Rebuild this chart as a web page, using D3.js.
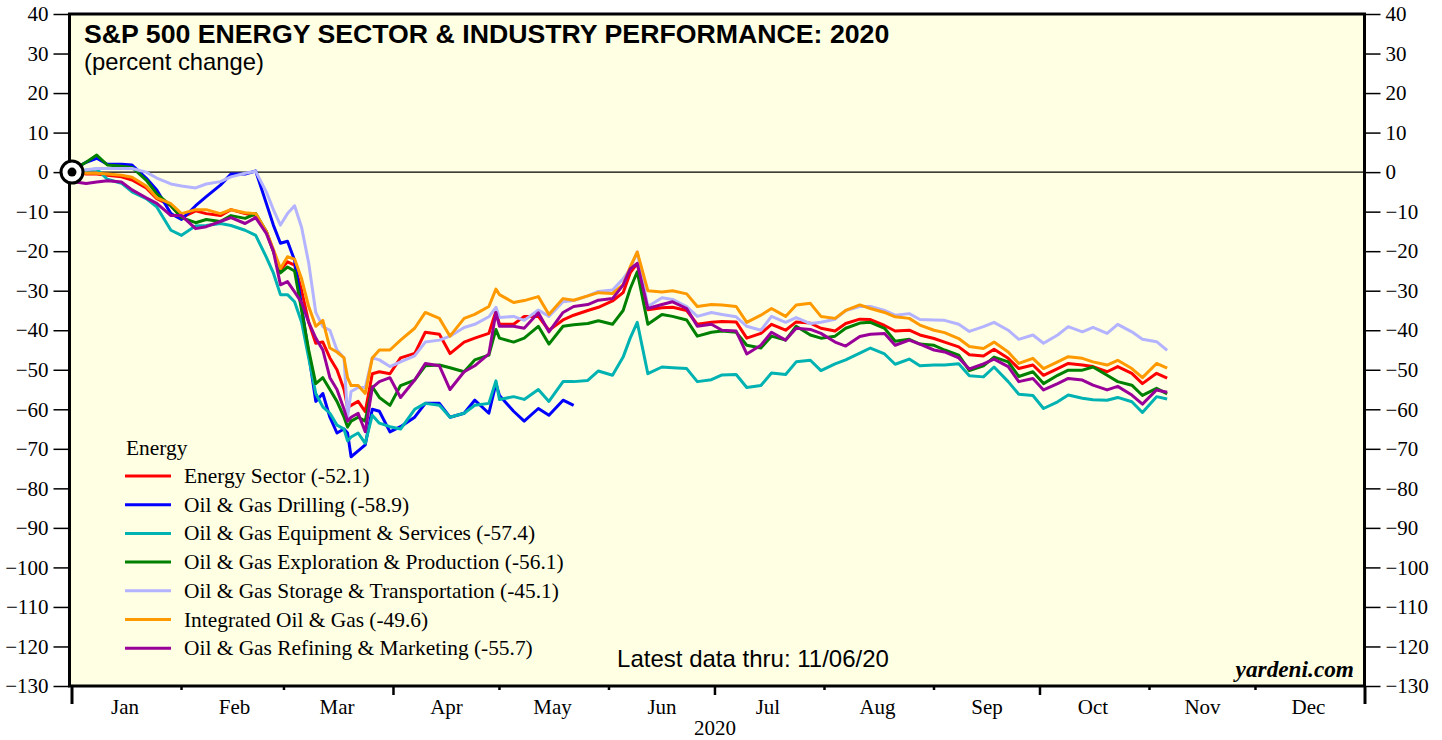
<!DOCTYPE html>
<html lang="en">
<head>
<meta charset="utf-8" />
<title>S&amp;P 500 Energy Sector &amp; Industry Performance: 2020</title>
<script src="https://d3js.org/d3.v7.min.js"></script>
<style>
  body { margin: 0; background: #fff; }
  .axis text { font-family: "Liberation Serif", "Times New Roman", serif; font-size: 21px; fill: #000; }
  .axis path { display: none; }
  .axis line { stroke: #000; stroke-width: 1.5; }
  .legend text { font-family: "Liberation Serif", "Times New Roman", serif; font-size: 21.4px; }
</style>
</head>
<body>
<svg id="chart" width="1442" height="740"></svg>
<script>
// dates of the samples (base = 0 on 12/31/19)
const dates = [
  "2020-01-01","2020-01-02","2020-01-05","2020-01-08","2020-01-11","2020-01-15","2020-01-18","2020-01-22","2020-01-25","2020-01-29",
  "2020-02-01","2020-02-05","2020-02-08","2020-02-12","2020-02-15","2020-02-19","2020-02-22","2020-02-25","2020-02-27","2020-02-29",
  "2020-03-02","2020-03-04","2020-03-06","2020-03-08","2020-03-10","2020-03-12","2020-03-14","2020-03-16","2020-03-18","2020-03-19",
  "2020-03-20","2020-03-22","2020-03-24","2020-03-26","2020-03-28","2020-03-31","2020-04-03","2020-04-07","2020-04-10","2020-04-14",
  "2020-04-17","2020-04-21","2020-04-24","2020-04-28","2020-04-30","2020-05-01","2020-05-05","2020-05-08","2020-05-12","2020-05-15",
  "2020-05-19","2020-05-22","2020-05-26","2020-05-29","2020-06-02","2020-06-05","2020-06-07","2020-06-09","2020-06-12","2020-06-16",
  "2020-06-19","2020-06-23","2020-06-26","2020-06-30","2020-07-03","2020-07-07","2020-07-10","2020-07-14","2020-07-17","2020-07-21",
  "2020-07-24","2020-07-28","2020-07-31","2020-08-04","2020-08-07","2020-08-11","2020-08-14","2020-08-18","2020-08-21","2020-08-25",
  "2020-08-28","2020-09-01","2020-09-04","2020-09-08","2020-09-11","2020-09-15","2020-09-18","2020-09-22","2020-09-25","2020-09-29",
  "2020-10-02","2020-10-06","2020-10-09","2020-10-13","2020-10-16","2020-10-20","2020-10-23","2020-10-27","2020-10-30","2020-11-03",
  "2020-11-06"
];

const energySector = [
  0, 0, -0.5, -0.5, -0.8, -1.2, -2, -4, -6.7, -8.5,
  -11.5, -9.8, -10.5, -11, -9.5, -10.5, -11, -15, -20, -24.8,
  -22.7, -23.5, -30, -38, -43.3, -43, -47, -50, -55, -59.5,
  -59, -58, -60.6, -51, -50.5, -51, -47, -45.9, -40.5, -41,
  -45.9, -43, -42, -40.8, -35.2, -38.5, -38.5, -36.5, -36.5, -40,
  -37.4, -36.2, -35, -34.2, -32.6, -30.5, -25.5, -23.1, -34.8, -34.3,
  -34.2, -35, -38.5, -38, -37.8, -37.9, -42, -40.8, -38.5, -40,
  -37.9, -38.2, -39.5, -40.2, -38.3, -37.2, -37.3, -38.8, -40.2, -40,
  -41.2, -42.1, -43, -44.2, -46.2, -46.5, -44.8, -47.1, -49.7, -48.8,
  -51.4, -49.7, -48.4, -48.8, -49.2, -50.5, -49.2, -50.9, -53.5, -50.9,
  -52.1
];

const drilling = [
  0, 1, 2.5, 3.5, 2, 2, 1.8, -1.5, -4.5, -10.5,
  -12, -8.5, -6.2, -3.3, -0.5, -0.5, 0.3, -7.9, -13.4, -18,
  -17.5, -22.3, -34, -46, -58, -56, -62, -66, -65, -66,
  -72, -70.5, -69, -60, -60.5, -65.7, -64.4, -62, -58.5, -58.5,
  -62, -61, -57.7, -61, -53.5, -56.5, -60.5, -63, -59.8, -61.5,
  -57.7, -59, null, null, null, null, null, null, null, null,
  null, null, null, null, null, null, null, null, null, null,
  null, null, null, null, null, null, null, null, null, null,
  null, null, null, null, null, null, null, null, null, null,
  null, null, null, null, null, null, null, null, null, null,
  null
];

const equipment = [
  0, -0.3, 0.5, 0.8, -1.8, -2.8, -5, -6.7, -8.8, -14.7,
  -16, -13.6, -13.5, -13, -13.5, -14.7, -16, -21.5, -25.5, -31,
  -31, -32.8, -38, -47, -56, -59.4, -61, -64, -65, -68,
  -67, -66, -68.6, -61.5, -63.5, -64.4, -65, -60, -58.5, -59,
  -62, -61, -59, -58.5, -52.8, -57.5, -56.8, -57.5, -55, -58,
  -53, -53, -52.7, -50.3, -51.4, -46.8, -42, -38, -51, -49.3,
  -49.5, -49.7, -53, -52.5, -51.3, -51.2, -54.5, -54, -50.8, -51.2,
  -48, -47.6, -50.2, -48.5, -47.5, -45.8, -44.5, -46, -48.6, -47.3,
  -49, -48.8, -48.8, -48.5, -51.5, -51.8, -49.3, -53, -56.2, -56.5,
  -59.8, -58.1, -56.4, -57.2, -57.6, -57.7, -57, -58.1, -60.8, -56.8,
  -57.4
];

const exploration = [
  0, 1, 2.5, 4.3, 1.8, 1.5, 1.2, -2, -5.5, -8.5,
  -11.5, -12.8, -12, -12.5, -11, -11.7, -10.5, -15, -20, -25.5,
  -24, -25, -35, -45, -53.5, -52, -55, -58, -62, -64.5,
  -63, -62, -63, -54.3, -57, -59, -54, -52.6, -49, -48.8,
  -49.5, -50.5, -47.5, -46.3, -39.8, -42, -43, -42, -39, -43.5,
  -39, -38.6, -38.3, -37.6, -38.5, -35, -29.5, -25.2, -38.5, -36,
  -36.5, -37.4, -41.5, -40.5, -40.2, -40.5, -43.8, -44.5, -41.5, -42.5,
  -39, -41.2, -42, -41.5, -39.5, -38.2, -38, -39.5, -42.8, -42.3,
  -43.5, -43.8, -45, -46.3, -50.2, -49, -46.8, -48, -51.7, -50.5,
  -53.5, -51.4, -50.1, -50.1, -49.3, -51.4, -53, -53.9, -56.5, -54.7,
  -56.1
];

const storage = [
  0, 0.3, 0.6, 0.9, 0.9, 0.9, 0.9, 0, -1.5, -3,
  -3.5, -4, -3, -2.4, -1.2, -0.3, 0.2, -5, -9.5, -13.4,
  -10.5, -8.5, -14, -23, -35.5, -39.1, -40, -45, -47, -62,
  -55.5, -54.5, -54.5, -47, -47.5, -49.2, -48, -46.5, -43, -42.5,
  -41.5, -39.3, -38.5, -36.6, -34.2, -36.8, -36.5, -37.5, -34.9, -36.5,
  -32.8, -32.5, -31.3, -30.2, -29.8, -27, -24.5, -20.2, -34, -31.8,
  -32.2, -34, -36.5, -35.5, -36, -36.6, -39, -40, -36.5, -38,
  -36.8, -38.3, -38, -37.2, -35, -34, -34, -35, -36.2, -35.8,
  -37.3, -37.4, -37.5, -38.5, -40.3, -39.1, -38, -40, -42.3, -41.2,
  -43.3, -41.2, -39.1, -40.4, -39.3, -40.8, -38.5, -40.4, -42.3, -42.9,
  -45.1
];

const integrated = [
  0, 0, -0.3, -0.3, -0.5, -0.8, -1.3, -3.5, -6.5, -8,
  -10.5, -9.5, -9.5, -10.5, -9.5, -10.3, -10.5, -15, -19.5, -24.4,
  -21.4, -22, -27, -34, -39, -37.5, -44.5, -45.5, -47, -52,
  -54, -54, -56, -47, -45, -45, -42.5, -39.5, -35.5, -37,
  -41.5, -37, -36, -34, -29.6, -31, -33, -32.5, -31.5, -36,
  -32, -32.4, -31.3, -30.5, -30.7, -28.5, -24, -20.2, -30, -30.3,
  -30, -30.8, -34, -33.5, -33.6, -34, -38, -36.2, -34.5, -36.5,
  -33.6, -33.2, -36.5, -37, -35, -33.6, -34.5, -35.5, -36.6, -37,
  -38.7, -40, -40.6, -42.1, -44.1, -44.6, -43, -45.5, -48.4, -47.1,
  -49.7, -48, -46.7, -47.1, -48, -48.8, -47.6, -49.7, -52, -48.4,
  -49.6
];

const refining = [
  0, -2.5, -2.9, -2.5, -2.2, -2.5, -4.5, -6.5, -7.9, -11,
  -11, -14.3, -13.8, -12.5, -11.5, -13, -11.5, -15.5, -20, -28.5,
  -27.7, -30.3, -33, -38, -42, -45, -52, -55, -60, -63,
  -62, -61, -65.7, -54.5, -53, -52, -57, -52.6, -48.4, -49,
  -55, -50.5, -49, -46, -35.5, -39, -39, -39.5, -35.6, -40.4,
  -35.5, -34, -33.5, -32.4, -32, -28.6, -24.5, -23.1, -34.5, -33.5,
  -32.8, -34.5, -39, -38.5, -40, -40.2, -46, -43.8, -40.5, -42.5,
  -39.5, -39.8, -40.8, -43, -44, -41.6, -41, -40.8, -43.8, -42.5,
  -43.5, -45, -45.5, -47, -49.8, -48.5, -47.3, -49.2, -53, -52.2,
  -55.1, -53.5, -52.2, -52.6, -53.9, -55.1, -54.2, -56.4, -58.7, -55.1,
  -55.7
];

const seriesLabels = [
  "Energy Sector (-52.1)",
  "Oil & Gas Drilling (-58.9)",
  "Oil & Gas Equipment & Services (-57.4)",
  "Oil & Gas Exploration & Production (-56.1)",
  "Oil & Gas Storage & Transportation (-45.1)",
  "Integrated Oil & Gas (-49.6)",
  "Oil & Gas Refining & Marketing (-55.7)"
];
const seriesValues = [energySector, drilling, equipment, exploration, storage, integrated, refining];
const seriesColors = ["#ff0000", "#0000ff", "#00b2b2", "#008000", "#b3b3ff", "#ff9900", "#990099"];

const yTicks = d3.range(-130, 41, 10);
const monthNames = ["Jan","Feb","Mar","Apr","May","Jun","Jul","Aug","Sep","Oct","Nov","Dec"];

const svg = d3.select("svg#chart");
const plot = {left: 69.5, right: 1364.5, top: 14, bottom: 686};

const parse = d3.timeParse("%Y-%m-%d");
const x = d3.scaleTime()
  .domain([new Date(2020, 0, 1), new Date(2021, 0, 1)])
  .range([72, 1365]);
const y = d3.scaleLinear().domain([-130, 40]).range([plot.bottom, plot.top]);

// background
svg.append("rect")
  .attr("x", plot.left).attr("y", plot.top)
  .attr("width", plot.right - plot.left).attr("height", plot.bottom - plot.top)
  .attr("fill", "#ffffe4");

// y axes
svg.append("g").attr("class", "axis")
  .attr("transform", "translate(" + plot.left + ",0)")
  .call(d3.axisLeft(y).tickValues(yTicks).tickSize(16).tickPadding(5).tickFormat(d3.format("d")));
svg.append("g").attr("class", "axis")
  .attr("transform", "translate(" + plot.right + ",0)")
  .call(d3.axisRight(y).tickValues(yTicks).tickSize(16).tickPadding(5).tickFormat(d3.format("d")));

// x axis: month boundaries, labels mid month
const monthStarts = d3.timeMonth.range(new Date(2020, 0, 1), new Date(2021, 0, 2));
const xAxis = svg.append("g").attr("class", "axis");
xAxis.selectAll("line.mtick")
  .data(monthStarts)
  .join("line")
  .attr("class", "mtick")
  .attr("x1", d => x(d)).attr("x2", d => x(d))
  .attr("y1", plot.bottom)
  .attr("y2", d => plot.bottom + (d.getMonth() === 0 ? 18 : (d.getMonth() % 3 === 0 ? 9 : 4)))
  .attr("stroke", "#000")
  .style("stroke-width", d => d.getMonth() === 0 ? 3 : 2.5);
xAxis.selectAll("text.mlabel")
  .data(monthStarts.slice(0, 12))
  .join("text")
  .attr("class", "mlabel")
  .attr("x", d => x(d3.timeDay.offset(d, 15)))
  .attr("y", 714)
  .attr("text-anchor", "middle")
  .text(d => monthNames[d.getMonth()]);
xAxis.append("text")
  .attr("x", x(new Date(2020, 6, 1)))
  .attr("y", 735)
  .attr("text-anchor", "middle")
  .text("2020");

// zero line
svg.append("line")
  .attr("x1", plot.left).attr("x2", plot.right)
  .attr("y1", y(0)).attr("y2", y(0))
  .attr("stroke", "#000").attr("stroke-width", 1.2);

// series
const line = d3.line()
  .defined(d => d.v !== null)
  .x(d => x(d.date))
  .y(d => y(d.v));

const lineArea = svg.append("g");
seriesValues.forEach((vals, i) => {
  const pts = dates.map((s, j) => ({date: parse(s), v: vals[j]}));
  lineArea.append("path")
    .datum(pts)
    .attr("fill", "none")
    .attr("stroke", seriesColors[i])
    .attr("stroke-width", 3)
    .attr("stroke-linejoin", "round")
    .attr("d", line);
});

// frame
svg.append("rect")
  .attr("x", plot.left).attr("y", plot.top)
  .attr("width", plot.right - plot.left).attr("height", plot.bottom - plot.top)
  .attr("fill", "none").attr("stroke", "#000").attr("stroke-width", 3);

// base marker
svg.append("circle")
  .attr("cx", x(new Date(2020, 0, 1))).attr("cy", y(0)).attr("r", 11)
  .attr("fill", "#fff").attr("stroke", "#000").attr("stroke-width", 3);
svg.append("circle")
  .attr("cx", x(new Date(2020, 0, 1))).attr("cy", y(0)).attr("r", 4.5)
  .attr("fill", "#000");

// titles
svg.append("text")
  .attr("x", 84).attr("y", 43)
  .style("font-family", "'Liberation Sans', Arial, sans-serif")
  .style("font-weight", "bold").style("font-size", "26.7px")
  .text("S&P 500 ENERGY SECTOR & INDUSTRY PERFORMANCE: 2020");
svg.append("text")
  .attr("x", 84).attr("y", 70)
  .style("font-family", "'Liberation Sans', Arial, sans-serif")
  .style("font-size", "23.8px")
  .text("(percent change)");

// legend
const legend = svg.append("g").attr("class", "legend");
legend.append("text").attr("x", 126).attr("y", 455).text("Energy");
seriesLabels.forEach((lab, i) => {
  const ly = 476 + i * 28.7;
  legend.append("line")
    .attr("x1", 125).attr("x2", 171).attr("y1", ly).attr("y2", ly)
    .attr("stroke", seriesColors[i]).attr("stroke-width", 3);
  legend.append("text").attr("x", 184).attr("y", ly + 7).text(lab);
});

svg.append("text")
  .attr("x", 753).attr("y", 667)
  .attr("text-anchor", "middle")
  .style("font-family", "'Liberation Sans', Arial, sans-serif")
  .style("font-size", "24px")
  .text("Latest data thru: 11/06/20");

svg.append("text")
  .attr("x", 1354).attr("y", 677)
  .attr("text-anchor", "end")
  .style("font-family", "'Liberation Serif', 'Times New Roman', serif")
  .style("font-weight", "bold").style("font-style", "italic")
  .style("font-size", "23.3px")
  .text("yardeni.com");
</script>
</body>
</html>
